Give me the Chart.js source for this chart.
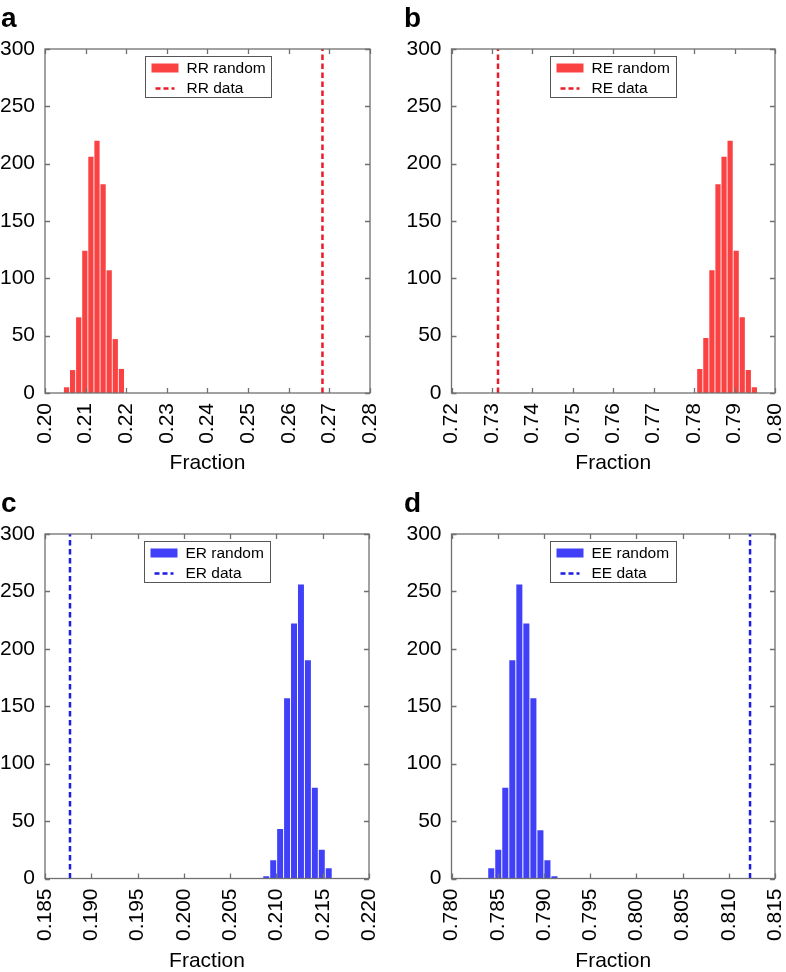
<!DOCTYPE html>
<html>
<head>
<meta charset="utf-8">
<script src="https://cdn.jsdelivr.net/npm/chart.js@4.4.1/dist/chart.umd.min.js"></script>
<style>
  body { margin: 0; background: #fff; }
  #wrap { position: relative; width: 786px; height: 972px; font-family: "Liberation Sans", Arial, sans-serif; }
  canvas { position: absolute; }
  .tag { position: absolute; font-weight: bold; font-size: 28px; line-height: 28px; color: #000; }
</style>
</head>
<body>
<div id="wrap">
  <canvas id="panelA" width="393" height="480" style="left:0;top:0"></canvas>
  <canvas id="panelB" width="393" height="480" style="left:393px;top:0"></canvas>
  <canvas id="panelC" width="393" height="492" style="left:0;top:480px"></canvas>
  <canvas id="panelD" width="393" height="492" style="left:393px;top:480px"></canvas>
  <div class="tag" style="left:1px;top:4px">a</div>
  <div class="tag" style="left:404px;top:4px">b</div>
  <div class="tag" style="left:1px;top:489px">c</div>
  <div class="tag" style="left:404px;top:489px">d</div>
</div>
<script>
// histogram bin centres and counts
const rrBins = [0.2053, 0.2068, 0.2083, 0.2098, 0.2113, 0.2128, 0.2143, 0.2158, 0.2173, 0.2188];
const rrCounts = [5, 20, 66, 124, 206, 220, 182, 107, 47, 21];
const rrData = 0.2683;

const reBins = [0.7814, 0.7829, 0.7844, 0.7859, 0.7874, 0.7889, 0.7904, 0.7919, 0.7934, 0.7949];
const reCounts = [21, 48, 107, 182, 206, 220, 124, 66, 20, 5];
const reData = 0.7315;

const erBins = [0.20890, 0.20965, 0.21040, 0.21115, 0.21190, 0.21265, 0.21340, 0.21415, 0.21490, 0.21565];
const erCounts = [2, 16, 43, 157, 222, 256, 190, 79, 25, 9];
const erData = 0.1877;

const eeBins = [0.78430, 0.78506, 0.78582, 0.78658, 0.78734, 0.78810, 0.78886, 0.78962, 0.79038, 0.79114];
const eeCounts = [9, 25, 79, 190, 256, 222, 157, 42, 16, 2];
const eeData = 0.8123;

const yTicks = [0, 50, 100, 150, 200, 250, 300];
const xTicksA = [0.20, 0.21, 0.22, 0.23, 0.24, 0.25, 0.26, 0.27, 0.28];
const xTicksB = [0.72, 0.73, 0.74, 0.75, 0.76, 0.77, 0.78, 0.79, 0.80];
const xTicksC = [0.185, 0.190, 0.195, 0.200, 0.205, 0.210, 0.215, 0.220];
const xTicksD = [0.780, 0.785, 0.790, 0.795, 0.800, 0.805, 0.810, 0.815];

const RED_BAR = 'rgb(250, 66, 66)';
const RED_LINE = 'rgb(232, 28, 40)';
const BLUE_BAR = 'rgb(64, 64, 248)';
const BLUE_LINE = 'rgb(28, 28, 226)';
const FONT = '"Liberation Sans", Arial, sans-serif';

// matlab style box with inward ticks on all four sides
const frameTicks = {
    id: 'frameTicks',
    afterDatasetsDraw(chart) {
        const { ctx, chartArea: a, scales: { x, y } } = chart;
        ctx.save();
        ctx.strokeStyle = '#707070';
        ctx.lineWidth = 1.3;
        ctx.beginPath();
        x.ticks.forEach(t => {
            const px = Math.round(x.getPixelForValue(t.value)) + 0.5;
            ctx.moveTo(px, a.bottom); ctx.lineTo(px, a.bottom - 5);
            ctx.moveTo(px, a.top); ctx.lineTo(px, a.top + 5);
        });
        y.ticks.forEach(t => {
            const py = Math.round(y.getPixelForValue(t.value)) + 0.5;
            ctx.moveTo(a.left, py); ctx.lineTo(a.left + 5, py);
            ctx.moveTo(a.right, py); ctx.lineTo(a.right - 5, py);
        });
        ctx.stroke();
        ctx.strokeRect(a.left, a.top, a.right - a.left, a.bottom - a.top);
        ctx.restore();
    }
};

// legend box drawn inside the plot, centred at the top
const boxLegend = {
    id: 'boxLegend',
    afterDraw(chart) {
        const { ctx, chartArea: a } = chart;
        const ds = chart.data.datasets;
        const w = 126, h = 41;
        const left = Math.round((a.left + a.right) / 2 - w / 2) + 0.5;
        const top = Math.round(a.top + 7) + 0.5;
        ctx.save();
        ctx.fillStyle = '#fff';
        ctx.fillRect(left, top, w, h);
        ctx.strokeStyle = '#555';
        ctx.lineWidth = 1;
        ctx.strokeRect(left, top, w, h);

        ctx.fillStyle = ds[0].backgroundColor;
        ctx.fillRect(left + 6, top + 7, 27, 9);

        ctx.strokeStyle = ds[1].borderColor;
        ctx.lineWidth = 2.5;
        ctx.setLineDash([5, 3]);
        ctx.beginPath();
        ctx.moveTo(left + 10, top + 32);
        ctx.lineTo(left + 29, top + 32);
        ctx.stroke();
        ctx.setLineDash([]);

        ctx.fillStyle = '#000';
        ctx.font = '15.5px ' + FONT;
        ctx.textBaseline = 'middle';
        ctx.textAlign = 'left';
        ctx.fillText(ds[0].label, left + 41, top + 12.5);
        ctx.fillText(ds[1].label, left + 41, top + 32.5);
        ctx.restore();
    }
};

function makePanel(id, cfg) {
    const ctx = document.getElementById(id).getContext('2d');
    const barPoints = cfg.bins.map((b, i) => ({ x: b, y: cfg.counts[i] }));
    const linePoints = [{ x: cfg.dataValue, y: 0 }, { x: cfg.dataValue, y: 300 }];

    return new Chart(ctx, {
        type: 'bar',
        data: {
            datasets: [
                {
                    type: 'bar',
                    label: cfg.name + ' random',
                    data: barPoints,
                    backgroundColor: cfg.barColor,
                    borderWidth: 0,
                    categoryPercentage: 1,
                    barPercentage: 0.86
                },
                {
                    type: 'line',
                    label: cfg.name + ' data',
                    data: linePoints,
                    borderColor: cfg.lineColor,
                    borderWidth: 2.5,
                    borderDash: [5.5, 3.5],
                    pointRadius: 0,
                    fill: false
                }
            ]
        },
        options: {
            responsive: false,
            animation: false,
            events: [],
            layout: { padding: cfg.padding },
            plugins: {
                legend: { display: false },
                tooltip: { enabled: false }
            },
            scales: {
                x: {
                    type: 'linear',
                    min: cfg.xTicks[0],
                    max: cfg.xTicks[cfg.xTicks.length - 1],
                    offset: false,
                    grid: { display: false, drawTicks: false, offset: false },
                    border: { display: false },
                    afterBuildTicks: s => { s.ticks = cfg.xTicks.map(v => ({ value: v })); },
                    afterFit: s => {
                        s.height = cfg.xHeight;
                        // rotated last label would otherwise push the plot in
                        s.paddingRight = 0;
                        s.paddingLeft = 0;
                    },
                    ticks: {
                        autoSkip: false,
                        minRotation: 90,
                        maxRotation: 90,
                        padding: 10,
                        color: '#000',
                        font: { family: FONT, size: 21 },
                        callback: v => v.toFixed(cfg.digits)
                    },
                    title: {
                        display: true,
                        text: 'Fraction',
                        color: '#000',
                        font: { family: FONT, size: 21 },
                        padding: { top: 0, bottom: cfg.titlePad }
                    }
                },
                y: {
                    min: 0,
                    max: 300,
                    grid: { display: false, drawTicks: false },
                    border: { display: false },
                    afterBuildTicks: s => { s.ticks = yTicks.map(v => ({ value: v })); },
                    afterFit: s => { s.width = 45; },
                    ticks: {
                        padding: 10,
                        color: '#000',
                        font: { family: FONT, size: 21 }
                    }
                }
            }
        },
        plugins: [frameTicks, boxLegend]
    });
}

document.addEventListener('DOMContentLoaded', function () {
    makePanel('panelA', {
        name: 'RR', bins: rrBins, counts: rrCounts, dataValue: rrData,
        xTicks: xTicksA, digits: 2, barColor: RED_BAR, lineColor: RED_LINE,
        padding: { top: 49, left: 0, right: 23, bottom: 0 }, xHeight: 87, titlePad: 4
    });
    makePanel('panelB', {
        name: 'RE', bins: reBins, counts: reCounts, dataValue: reData,
        xTicks: xTicksB, digits: 2, barColor: RED_BAR, lineColor: RED_LINE,
        padding: { top: 49, left: 13.5, right: 11, bottom: 0 }, xHeight: 87, titlePad: 4
    });
    makePanel('panelC', {
        name: 'ER', bins: erBins, counts: erCounts, dataValue: erData,
        xTicks: xTicksC, digits: 3, barColor: BLUE_BAR, lineColor: BLUE_LINE,
        padding: { top: 54, left: 0, right: 24, bottom: 0 }, xHeight: 93.5, titlePad: -2
    });
    makePanel('panelD', {
        name: 'EE', bins: eeBins, counts: eeCounts, dataValue: eeData,
        xTicks: xTicksD, digits: 3, barColor: BLUE_BAR, lineColor: BLUE_LINE,
        padding: { top: 54, left: 13.5, right: 11, bottom: 0 }, xHeight: 93.5, titlePad: -2
    });
});
</script>
</body>
</html>
